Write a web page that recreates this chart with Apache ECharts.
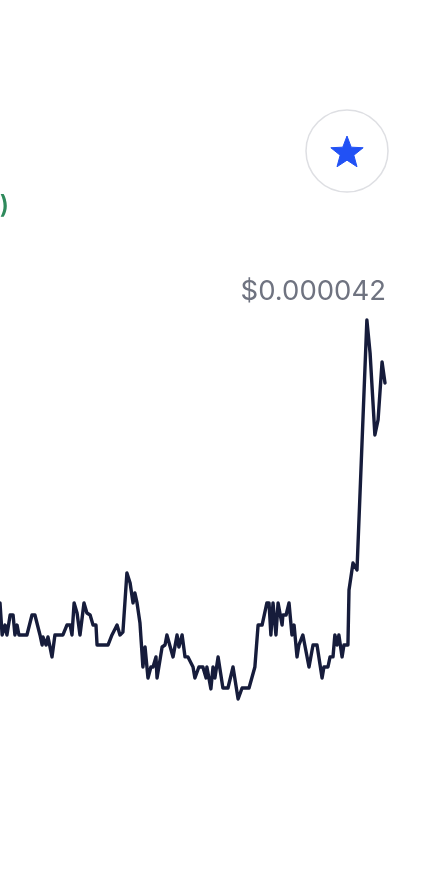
<!DOCTYPE html>
<html>
<head>
<meta charset="utf-8">
<script src="https://cdn.jsdelivr.net/npm/echarts@6/dist/echarts.min.js"></script>
<style>
  html, body { margin: 0; padding: 0; background: #ffffff; }
  #chart { width: 436px; height: 895px; }
</style>
</head>
<body>
<div id="chart"></div>
<script>
// Minutes since start of the 24h window
const minutes = [
  0, 8, 19, 26, 38, 49, 56, 64, 71, 101,
  120, 131, 150, 158, 161, 173, 180, 195, 206, 236,
  251, 263, 270, 278, 289, 300, 315, 326, 338, 349,
  360, 364, 405, 420, 439, 450, 461, 476, 488, 499,
  506, 514, 525, 536, 544, 555, 566, 574, 585, 589,
  608, 619, 626, 649, 664, 671, 683, 694, 705, 724,
  731, 746, 761, 773, 776, 791, 799, 806, 818, 836,
  855, 874, 893, 908, 934, 956, 968, 983, 1001, 1009,
  1016, 1024, 1035, 1043, 1058, 1061, 1073, 1084, 1095, 1103,
  1114, 1121, 1136, 1159, 1174, 1189, 1208, 1215, 1230, 1238,
  1249, 1256, 1264, 1271, 1283, 1290, 1305, 1309, 1324, 1339,
  1376, 1388, 1406, 1418, 1433, 1444
];
// Price in millionths of a dollar (micro-USD)
const priceMicro = [
  23.71, 21.64, 22.28, 21.64, 22.93, 22.93, 21.64, 22.28, 21.64, 21.64,
  22.93, 22.93, 21.64, 20.99, 21.51, 20.99, 21.51, 20.22, 21.64, 21.64,
  22.28, 22.28, 21.64, 23.71, 23.06, 21.64, 23.71, 23.06, 22.93, 22.28,
  22.28, 20.99, 20.99, 21.64, 22.28, 21.64, 21.83, 25.65, 25.00, 23.71,
  24.35, 23.71, 22.41, 19.57, 20.86, 18.86, 19.57, 19.57, 20.22, 18.86,
  20.86, 20.99, 21.64, 20.22, 21.64, 20.86, 21.64, 20.22, 20.22, 19.57,
  18.86, 19.57, 19.57, 18.86, 19.57, 18.15, 19.57, 18.86, 20.22, 18.21,
  18.21, 19.57, 17.50, 18.21, 18.21, 19.57, 22.28, 22.28, 23.71, 23.71,
  21.64, 23.71, 21.64, 23.71, 22.28, 22.93, 22.93, 23.71, 21.64, 22.28,
  20.22, 20.99, 21.64, 19.57, 20.99, 20.99, 18.86, 19.57, 19.57, 20.22,
  20.22, 21.64, 20.99, 21.64, 20.22, 20.99, 20.99, 24.55, 26.29, 25.84,
  42.00, 39.87, 34.57, 35.54, 39.29, 37.93
];
const priceLabel = '$0.000042';
const changeTail = ')';

const seriesData = minutes.map((m, i) => [m, priceMicro[i]]);

function starPoints(cx, cy, R, r) {
  const pts = [];
  for (let i = 0; i < 10; i++) {
    const ang = -Math.PI / 2 + i * Math.PI / 5;
    const rad = i % 2 === 0 ? R : r;
    pts.push([cx + rad * Math.cos(ang), cy + rad * Math.sin(ang)]);
  }
  return pts;
}

const chart = echarts.init(document.getElementById('chart'), null, { renderer: 'canvas' });
chart.setOption({
  animation: false,
  backgroundColor: '#ffffff',
  grid: { left: 0, right: 51, top: 320, bottom: 196 },
  xAxis: {
    type: 'value', min: 0, max: 1444,
    show: false
  },
  yAxis: {
    type: 'value', min: 17.5, max: 42,
    show: false
  },
  series: [{
    type: 'line',
    data: seriesData,
    showSymbol: false,
    smooth: false,
    lineStyle: { color: '#161c3b', width: 3.4, join: 'round', cap: 'round' },
    clip: false
  }],
  graphic: [
    {
      type: 'circle',
      shape: { cx: 347, cy: 151, r: 41 },
      style: { fill: '#ffffff', stroke: '#dedfe3', lineWidth: 1.5 }
    },
    {
      type: 'polygon',
      shape: { points: starPoints(347, 153, 17, 7.2) },
      style: { fill: '#2151f5', lineJoin: 'round', stroke: '#2151f5', lineWidth: 1 }
    },
    {
      type: 'text',
      x: 386, y: 306,
      style: {
        text: priceLabel,
        fill: '#6f7380',
        font: '27.5px Inter, Roboto, "Noto Sans", sans-serif',
        textAlign: 'right',
        textVerticalAlign: 'bottom'
      }
    },
    {
      type: 'text',
      x: 9, y: 218,
      style: {
        text: changeTail,
        fill: '#2f8a5c',
        font: '600 25px Inter, Roboto, "Noto Sans", sans-serif',
        textAlign: 'right',
        textVerticalAlign: 'bottom'
      }
    }
  ]
});
</script>
</body>
</html>
